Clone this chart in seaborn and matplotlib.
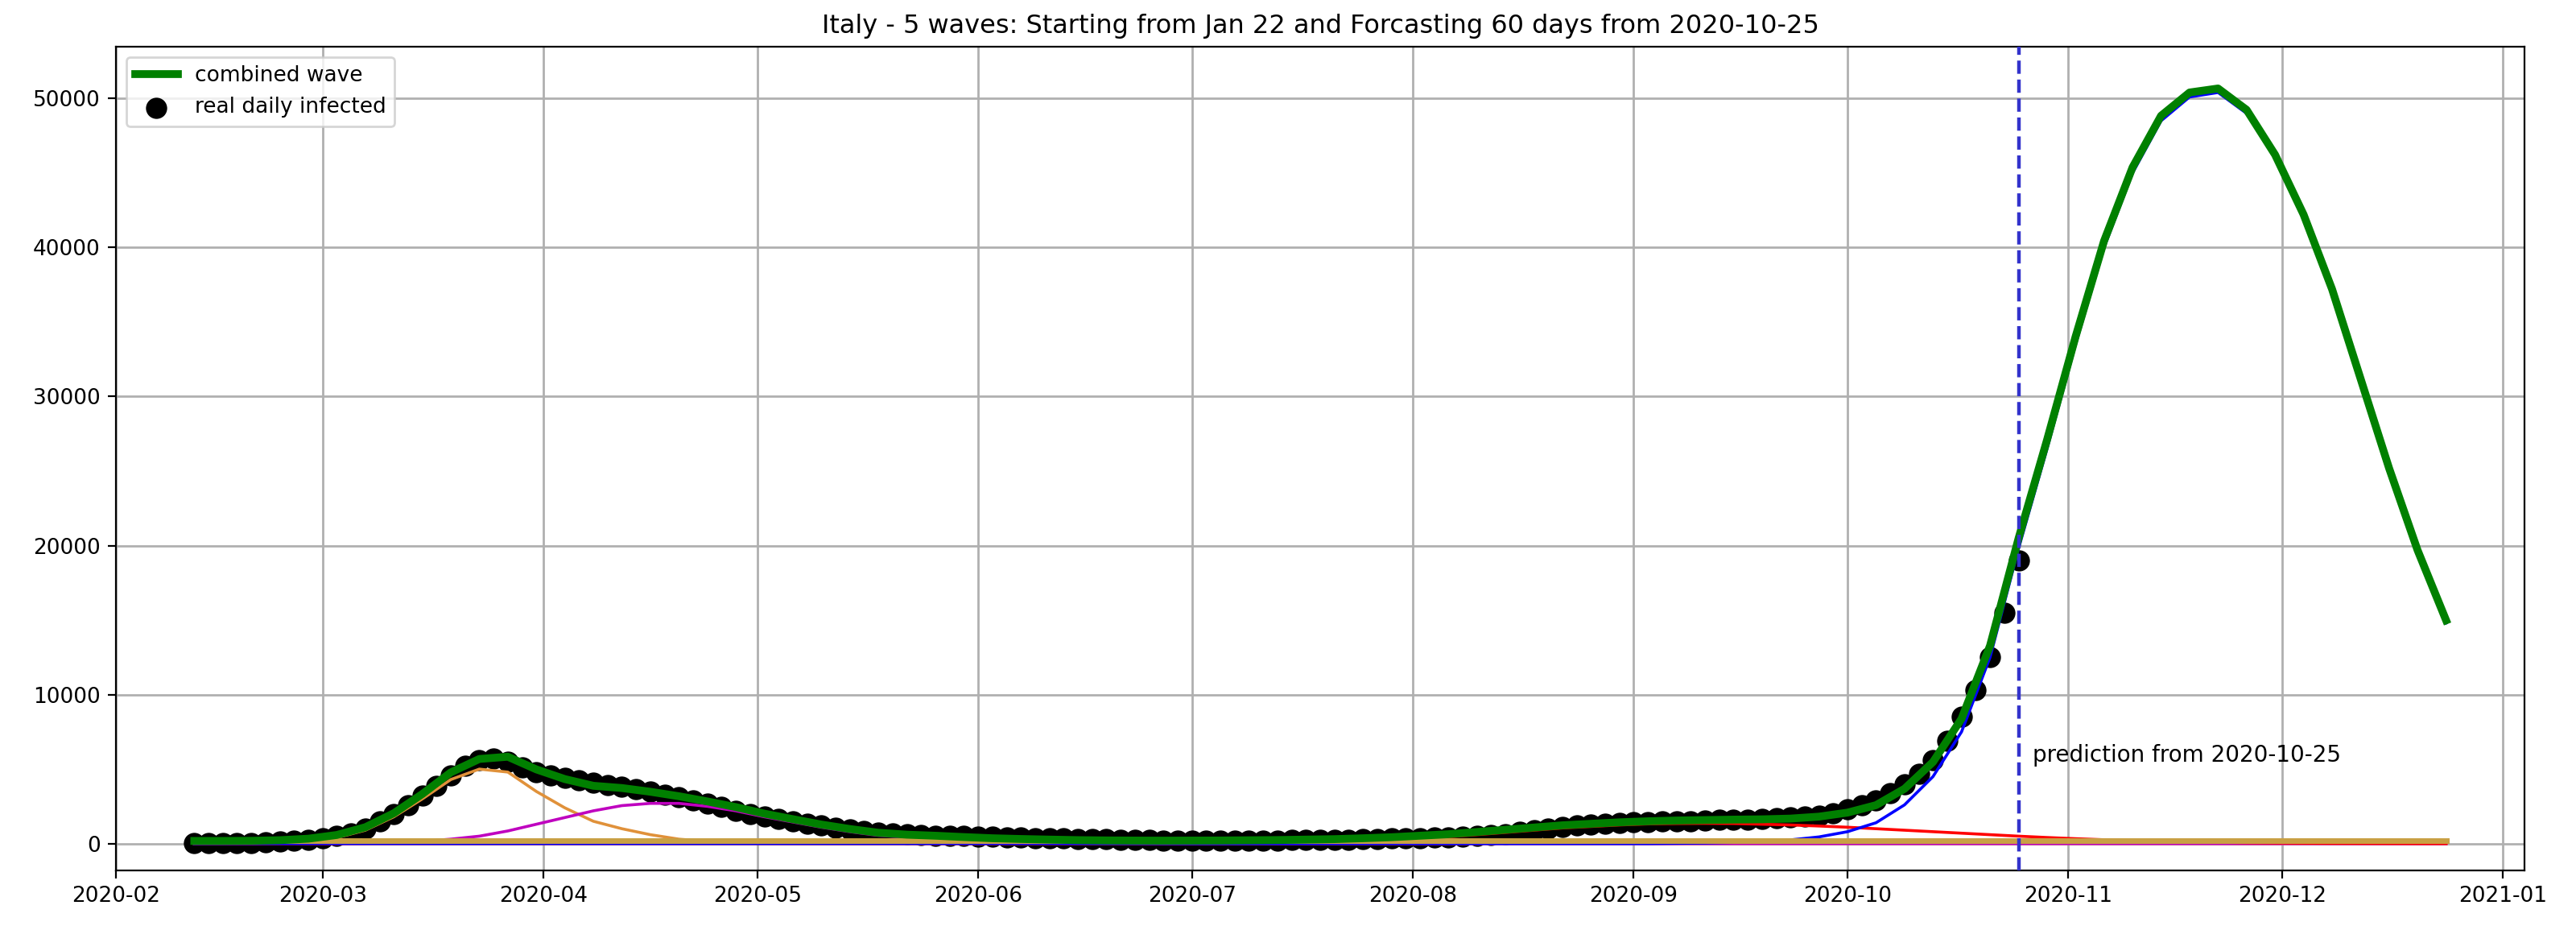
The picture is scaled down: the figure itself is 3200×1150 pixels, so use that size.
import numpy as np
import pandas as pd
import matplotlib
matplotlib.use("Agg")
import matplotlib.pyplot as plt
import seaborn as sns

# real daily infected, every 2 days from 2020-02-12 to 2020-10-25
real_dates = pd.date_range("2020-02-12", "2020-10-25", freq="2D")
real_values = [20, 20, 20, 30, 40, 80, 150, 200, 250, 350,
               500, 700, 1000, 1500, 2000, 2600, 3200, 3900, 4600, 5200,
               5600, 5700, 5500, 5100, 4800, 4600, 4400, 4250, 4100, 3950,
               3800, 3650, 3500, 3300, 3100, 2900, 2700, 2450, 2200, 2000,
               1800, 1650, 1500, 1350, 1200, 1050, 950, 850, 750, 700,
               650, 600, 550, 520, 500, 470, 450, 420, 400, 370,
               350, 340, 330, 310, 300, 270, 250, 230, 220, 210,
               200, 190, 200, 200, 210, 215, 220, 230, 240, 250,
               260, 280, 300, 330, 350, 370, 380, 400, 420, 460,
               500, 570, 650, 780, 900, 1000, 1100, 1200, 1300, 1350,
               1400, 1430, 1450, 1480, 1500, 1520, 1550, 1580, 1600, 1620,
               1650, 1700, 1750, 1820, 1900, 2050, 2300, 2550, 2900, 3400,
               4000, 4700, 5600, 6900, 8500, 10300, 12500, 15500, 19000]

# fitted waves, every 4 days from 2020-02-12 to 2020-12-24
wave_dates = pd.date_range("2020-02-12", "2020-12-24", freq="4D")
wave_orange = [0, 0, 10, 50, 150, 400, 900, 1800, 3000, 4300, 5000, 4800, 3500, 2400,
               1500, 1000, 600, 300, 150, 70, 30, 10] + [0] * 58
wave_magenta = [0] * 6 + [20, 60, 150, 300, 500, 850, 1300, 1750, 2200, 2550,
                          2700, 2700, 2500, 2200, 1800, 1450, 1100, 800, 550, 420,
                          350, 260, 180, 130, 90, 55, 30, 15, 5] + [0] * 45
wave_red = [0] * 32 + [5, 10, 15, 25, 30, 45, 60, 90, 120, 180,
                       250, 350, 450, 600, 750, 900, 1050, 1150, 1250, 1320,
                       1350, 1360, 1350, 1300, 1250, 1180, 1100, 1000, 900, 800,
                       700, 600, 500, 410, 330, 260, 200, 160, 120, 90,
                       60, 45, 30, 20, 15, 10, 5, 3]
wave_ochre = [180] * 80
wave_blue = [0] * 52 + [20, 40, 80, 150, 250, 450, 800, 1400, 2600, 4500,
                        7500, 12500, 19800, 26500, 33500, 40000, 45000, 48500, 50100, 50400,
                        49000, 46000, 42000, 37000, 31000, 25000, 19500, 14800]
combined = np.array(wave_orange) + np.array(wave_magenta) + np.array(wave_red) \
    + np.array(wave_ochre) + np.array(wave_blue)

pred_date = pd.Timestamp("2020-10-25")

plt.rcParams["font.family"] = ["DejaVu Sans"]
fig, ax = plt.subplots(figsize=(16, 5.75), dpi=200)

sns.lineplot(x=wave_dates, y=combined, color="green", linewidth=3.5, label="combined wave",
             ax=ax, zorder=4)
sns.scatterplot(x=real_dates, y=real_values, color="black", s=90, edgecolor="black",
                linewidth=0, label="real daily infected", ax=ax, zorder=2)
for vals, col in [(wave_orange, "#e0913a"), (wave_magenta, "m"),
                  (wave_red, "r"), (wave_blue, "b")]:
    sns.lineplot(x=wave_dates, y=vals, color=col, linewidth=1.3, ax=ax, zorder=3)
sns.lineplot(x=wave_dates, y=wave_ochre, color="#c9a043", linewidth=2.5, ax=ax, zorder=3.5)
ax.axvline(pred_date, color="#3333cc", linestyle="--", linewidth=1.6, zorder=5)
ax.text(pred_date + pd.Timedelta(days=2), 5500, "prediction from 2020-10-25", fontsize=10)

ax.set_xlim(pd.Timestamp("2020-02-01"), pd.Timestamp("2021-01-04"))
ax.set_ylim(-1800, 53500)
ax.set_xlabel("")
ax.grid(True, color="#b0b0b0", linewidth=1)
ax.tick_params(labelsize=9.5)
ax.set_title("Italy - 5 waves: Starting from Jan 22 and Forcasting 60 days from 2020-10-25",
             fontsize=11.5)
ax.legend(loc="upper left", fontsize=9.5)
fig.subplots_adjust(left=0.045, right=0.98, top=0.95, bottom=0.06)
fig.savefig("out.png")
